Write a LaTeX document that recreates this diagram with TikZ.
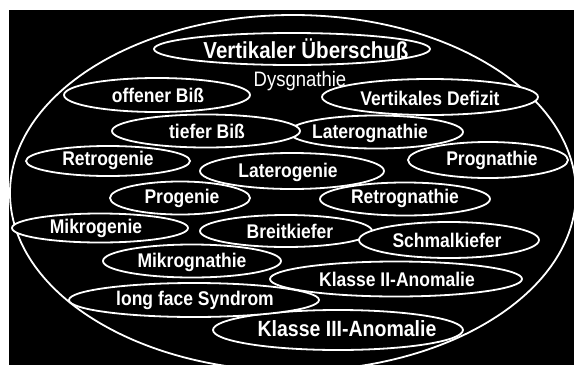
\documentclass[tikz,border=0pt]{standalone}
\usepackage{graphicx}
\usepackage{fontspec}
\setmainfont{Liberation Sans}
\newcommand{\tallt}[1]{\scalebox{1}[1.13]{#1}}
\begin{document}
\begin{tikzpicture}[x=1pt,y=-1pt]
\tikzset{
  ovl/.style={draw=white, line width=1.8pt, fill=black},
  lbl/.style={text=white, inner sep=0pt, font=\fontsize{17.5}{18}\selectfont\bfseries},
  free/.style={text=white, inner sep=0pt, font=\fontsize{18.5}{19}\selectfont}
}
\useasboundingbox (0,0) rectangle (574,365);
\fill[white] (0,0) rectangle (574,365);
\fill[black] (9,10) rectangle (574,365);
\begin{scope}
\clip (9,10) rectangle (574,365);
\draw[draw=white, line width=1.8pt] (293,193) ellipse [x radius=283, y radius=178];
% small ovals
\draw[ovl] (292,49) ellipse [x radius=138, y radius=16];
\draw[ovl] (157,95) ellipse [x radius=93, y radius=17];
\draw[ovl] (430,97) ellipse [x radius=108, y radius=18];
\draw[ovl] (376,132) ellipse [x radius=87, y radius=16.5];
\draw[ovl] (206,131) ellipse [x radius=94, y radius=16.5];
\draw[ovl] (108,161) ellipse [x radius=82, y radius=15];
\draw[ovl] (292,171) ellipse [x radius=92, y radius=18];
\draw[ovl] (488,160) ellipse [x radius=80, y radius=18];
\draw[ovl] (180,198) ellipse [x radius=70, y radius=16.5];
\draw[ovl] (405,199) ellipse [x radius=85, y radius=16.5];
\draw[ovl] (100,228) ellipse [x radius=88, y radius=14.5];
\draw[ovl] (286,231) ellipse [x radius=86, y radius=16];
\draw[ovl] (449,240) ellipse [x radius=90, y radius=18];
\draw[ovl] (192,261) ellipse [x radius=89, y radius=16.5];
\draw[ovl] (338,330) ellipse [x radius=125, y radius=20];
\draw[ovl] (396,279) ellipse [x radius=126, y radius=17.5];
\draw[ovl] (194,300) ellipse [x radius=125, y radius=17];
\end{scope}
% labels
\node[lbl, font=\fontsize{20.5}{21}\selectfont\bfseries] (vu) at (306,49) {\tallt{Vertikaler Überschuß}};
\node[free] (dys) at (300,81) {\tallt{Dysgnathie}};
\node[lbl] (ob) at (158,95) {\tallt{offener Biß}};
\node[lbl] (vd) at (430,98) {\tallt{Vertikales Defizit}};
\node[lbl] (tb) at (207,131) {\tallt{tiefer Biß}};
\node[lbl] (lg) at (370,133) {\tallt{Laterognathie}};
\node[lbl] (rg) at (108,160) {\tallt{Retrogenie}};
\node[lbl] (lgn) at (288,172) {\tallt{Laterogenie}};
\node[lbl] (pg) at (492,160) {\tallt{Prognathie}};
\node[lbl] (pr) at (182,198) {\tallt{Progenie}};
\node[lbl] (rgn) at (405,198) {\tallt{Retrognathie}};
\node[lbl] (mg) at (96,228) {\tallt{Mikrogenie}};
\node[lbl] (bk) at (290,231) {\tallt{Breitkiefer}};
\node[lbl] (sk) at (447,240) {\tallt{Schmalkiefer}};
\node[lbl] (mgn) at (192,262) {\tallt{Mikrognathie}};
\node[lbl] (k2) at (397,279) {\tallt{Klasse II-Anomalie}};
\node[lbl] (lf) at (195,300) {\tallt{long face Syndrom}};
\node[lbl, font=\fontsize{19.5}{20}\selectfont\bfseries] (k3) at (347,329) {\tallt{Klasse III-Anomalie}};
\end{tikzpicture}
\end{document}
